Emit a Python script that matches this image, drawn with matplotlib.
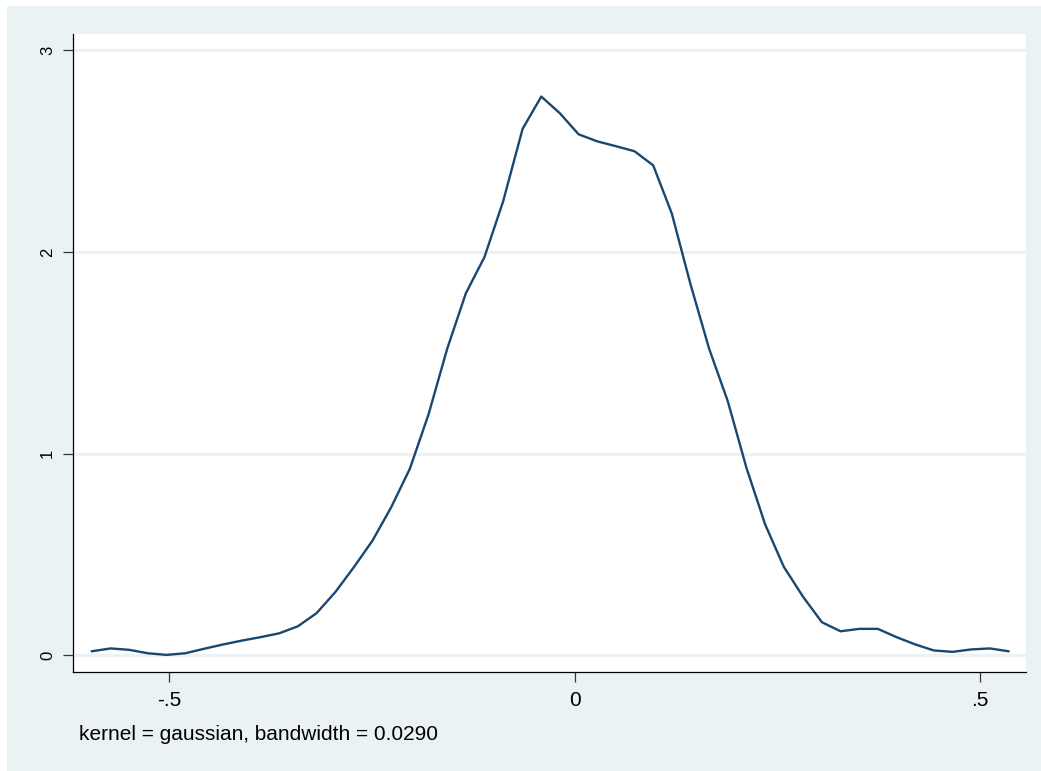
import numpy as np
import matplotlib.pyplot as plt
from matplotlib.patches import Rectangle

# kernel density estimate (50 grid points)
x_grid = [-0.595, -0.572, -0.549, -0.526, -0.503, -0.480, -0.457, -0.433, -0.410, -0.387,
          -0.364, -0.341, -0.318, -0.295, -0.272, -0.249, -0.226, -0.203, -0.180, -0.157,
          -0.134, -0.111, -0.088, -0.064, -0.041, -0.018, 0.005, 0.028, 0.051, 0.074,
          0.097, 0.120, 0.143, 0.166, 0.189, 0.212, 0.235, 0.258, 0.282, 0.305,
          0.328, 0.351, 0.374, 0.397, 0.420, 0.443, 0.466, 0.489, 0.512, 0.535]
density = [0.021, 0.035, 0.028, 0.011, 0.003, 0.011, 0.033, 0.055, 0.074, 0.091,
           0.110, 0.145, 0.210, 0.314, 0.438, 0.570, 0.735, 0.926, 1.195, 1.52,
           1.795, 1.975, 2.251, 2.61, 2.77, 2.687, 2.583, 2.548, 2.524, 2.499,
           2.429, 2.19, 1.84, 1.52, 1.26, 0.93, 0.65, 0.44, 0.29, 0.165,
           0.12, 0.132, 0.132, 0.091, 0.055, 0.025, 0.018, 0.030, 0.035, 0.021]

x_ticks = [-0.5, 0, 0.5]
x_ticklabels = ['-.5', '0', '.5']
y_ticks = [0, 1, 2, 3]
y_ticklabels = ['0', '1', '2', '3']
note = 'kernel = gaussian, bandwidth = 0.0290'

plt.rcParams['font.family'] = ['Liberation Sans', 'DejaVu Sans']

W, H = 1041, 771
fig = plt.figure(figsize=(W / 100, H / 100), dpi=100, facecolor='white')
# stata-style light background, with thin white margin top/left
fig.patches.append(Rectangle((7 / W, 0), 1, 1 - 6 / H, transform=fig.transFigure,
                             facecolor='#eaf2f3', edgecolor='none', zorder=-10))

ax = fig.add_axes([73 / W, 1 - 672 / H, (1026 - 73) / W, (672 - 34) / H])
ax.set_facecolor('white')

ax.plot(x_grid, density, color='#1a476f', lw=1.7, zorder=3)

ax.set_xlim(-0.6184, 0.5567)
ax.set_ylim(-0.0818, 3.080)

ax.set_xticks(x_ticks)
ax.set_xticklabels(x_ticklabels, fontsize=15)
ax.set_yticks(y_ticks)
ax.set_yticklabels(y_ticklabels, fontsize=12, rotation=90, va='center')

ax.grid(axis='y', color='#eaf2f3', lw=2.2, zorder=0)
ax.grid(axis='x', visible=False)

for s in ['top', 'right']:
    ax.spines[s].set_visible(False)
for s in ['left', 'bottom']:
    ax.spines[s].set_color('black')
    ax.spines[s].set_linewidth(0.9)

ax.tick_params(axis='y', length=7, width=0.9, color='#333333', pad=6)
ax.tick_params(axis='x', length=7, width=0.9, color='#333333', pad=7)

fig.text(79 / W, 1 - 740 / H, note, fontsize=15, va='baseline', ha='left')

fig.savefig('out.png', dpi=100, facecolor=fig.get_facecolor())
